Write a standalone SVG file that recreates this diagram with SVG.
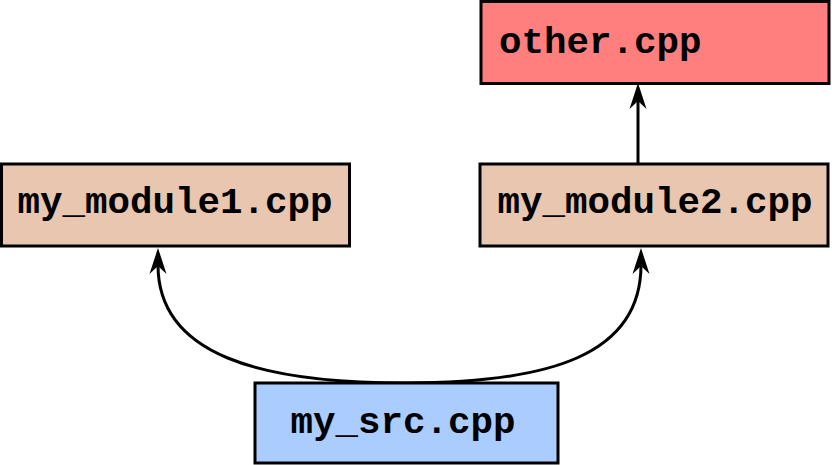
<svg xmlns="http://www.w3.org/2000/svg" width="832" height="465" viewBox="0 0 832 465">
<style>
.box{stroke:#000;stroke-width:3}
.lbl{font-family:"Liberation Mono","Courier New",monospace;font-weight:bold;font-size:37.5px;fill:#000}
.edge{fill:none;stroke:#000;stroke-width:3}
</style>
<defs>
<marker id="ah" markerUnits="userSpaceOnUse" markerWidth="40" markerHeight="40" viewBox="-20 -20 40 40" refX="0" refY="0" orient="auto">
<path d="M17,0 L-9,-8.5 L-1,0 L-9,8.5 Z" fill="#000"/>
</marker>
</defs>
<rect width="832" height="465" fill="#fff"/>
<g id="edges">
<path class="edge" d="M638,164 L638,100" marker-end="url(#ah)"/>
<path class="edge" d="M405,383 C260,383 158,355 158,265" marker-end="url(#ah)"/>
<path class="edge" d="M405,383 C550,383 641,355 641,265" marker-end="url(#ah)"/>
</g>
<g id="other">
<rect class="box" x="481" y="1.5" width="348" height="82" fill="#ff7f7f"/>
<text class="lbl" x="499" y="53">other.cpp</text>
</g>
<g id="my_module1">
<rect class="box" x="1.5" y="164" width="348" height="82" fill="#e8c6b0"/>
<text class="lbl" x="175" y="213" text-anchor="middle">my_module1.cpp</text>
</g>
<g id="my_module2">
<rect class="box" x="480" y="164" width="348" height="82" fill="#e8c6b0"/>
<text class="lbl" x="655" y="213" text-anchor="middle">my_module2.cpp</text>
</g>
<g id="my_src">
<rect class="box" x="255" y="383" width="303" height="80" fill="#aaccff"/>
<text class="lbl" x="403" y="433" text-anchor="middle">my_src.cpp</text>
</g>
</svg>
